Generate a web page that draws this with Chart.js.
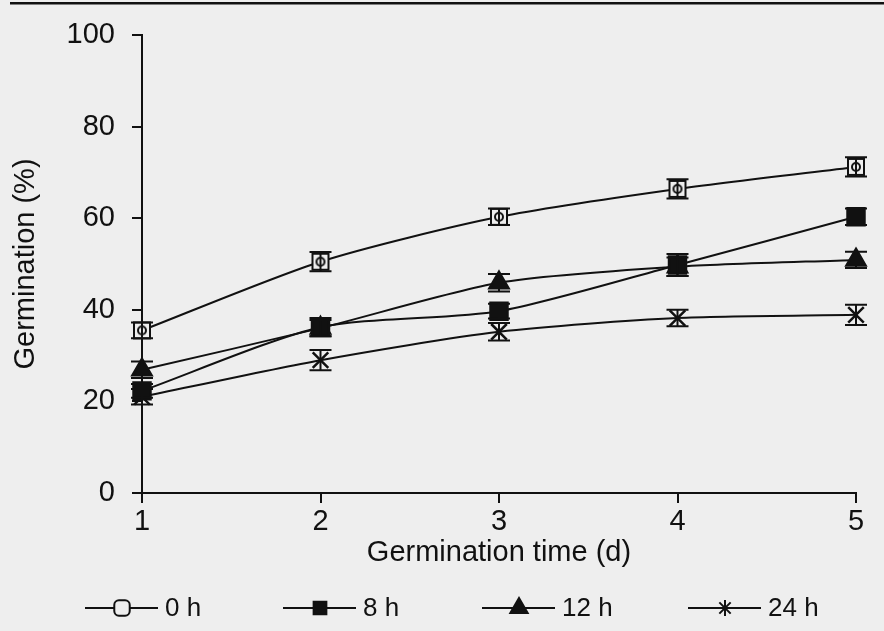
<!DOCTYPE html>
<html>
<head>
<meta charset="utf-8">
<script src="https://cdn.jsdelivr.net/npm/chart.js@4"></script>
<style>
  html, body { margin: 0; padding: 0; background: #eeeeee; }
  canvas { display: block; }
</style>
</head>
<body>
<canvas id="germChart" width="884" height="631"></canvas>
<script>
// data
const days = [1, 2, 3, 4, 5];
const seriesNames = ["0 h", "8 h", "12 h", "24 h"];
const germ0h = [35.5, 50.5, 60.3, 66.4, 71.2];
const germ8h = [22.3, 36.2, 39.7, 49.8, 60.3];
const germ12h = [26.9, 36.0, 45.9, 49.4, 50.9];
const germ24h = [21.0, 29.0, 35.2, 38.2, 38.9];
const err0h = [1.7, 2.1, 1.8, 2.1, 2.1];
const err8h = [1.5, 2.0, 1.6, 2.4, 1.8];
const err12h = [1.8, 1.8, 1.9, 2.0, 1.8];
const err24h = [1.7, 2.2, 1.9, 1.8, 2.2];
const yTicks = [0, 20, 40, 60, 80, 100];

const ink = "#111111";
const paper = "#eeeeee";
Chart.defaults.font.family = '"Liberation Sans", Arial, sans-serif';
Chart.defaults.color = ink;

// open square with a ring inside, like the 0 h marker
function openSquare(size) {
  const c = document.createElement("canvas");
  c.width = size; c.height = size;
  const g = c.getContext("2d");
  g.fillStyle = paper;
  g.strokeStyle = ink;
  g.lineWidth = 2;
  g.fillRect(2, 2, size - 4, size - 4);
  g.strokeRect(2, 2, size - 4, size - 4);
  g.beginPath();
  g.arc(size / 2, size / 2, size / 2 - 6, 0, Math.PI * 2);
  g.stroke();
  return c;
}

// the error bar stem supplies the vertical arm of the asterisk
const styles = [
  { pointStyle: openSquare(20), radius: 10 },
  { pointStyle: "rect", radius: 12 },
  { pointStyle: "triangle", radius: 11 },
  { pointStyle: "crossRot", radius: 11 }
];
const values = [germ0h, germ8h, germ12h, germ24h];
const errors = [err0h, err8h, err12h, err24h];

const datasets = values.map((vals, i) => ({
  label: seriesNames[i],
  data: vals.map((v, j) => ({ x: days[j], y: v })),
  errors: errors[i],
  clip: false,
  borderColor: ink,
  borderWidth: 2,
  backgroundColor: ink,
  tension: 0.25,
  pointStyle: styles[i].pointStyle,
  pointRadius: styles[i].radius,
  pointBorderWidth: 2.5,
  pointBorderColor: ink,
  pointBackgroundColor: ink
}));

// error bars with wide caps
const errorBars = {
  id: "errorBars",
  afterDatasetsDraw(chart) {
    const { ctx, scales: { x, y } } = chart;
    ctx.save();
    ctx.strokeStyle = ink;
    ctx.lineWidth = 2;
    chart.data.datasets.forEach(ds => {
      ds.data.forEach((p, j) => {
        const px = x.getPixelForValue(p.x);
        const top = y.getPixelForValue(p.y + ds.errors[j]);
        const bot = y.getPixelForValue(p.y - ds.errors[j]);
        ctx.beginPath();
        ctx.moveTo(px, top); ctx.lineTo(px, bot);
        ctx.moveTo(px - 11, top); ctx.lineTo(px + 11, top);
        ctx.moveTo(px - 11, bot); ctx.lineTo(px + 11, bot);
        ctx.stroke();
      });
    });
    ctx.restore();
  }
};

// line - marker - line legend under the axis title
const lineLegend = {
  id: "lineLegend",
  afterDraw(chart) {
    const ctx = chart.ctx;
    const slots = [85, 283, 482, 688];
    const legendY = 608;
    const marks = [
      { pointStyle: "rectRounded", radius: 9, fill: paper },
      { pointStyle: "rect", radius: 9, fill: ink },
      { pointStyle: "triangle", radius: 10, fill: ink },
      { pointStyle: "star", radius: 8, fill: ink }
    ];
    ctx.save();
    ctx.strokeStyle = ink;
    ctx.lineWidth = 2;
    slots.forEach((x0, i) => {
      ctx.beginPath();
      ctx.moveTo(x0, legendY); ctx.lineTo(x0 + 73, legendY);
      ctx.stroke();
      ctx.fillStyle = marks[i].fill;
      Chart.helpers.drawPoint(ctx, { pointStyle: marks[i].pointStyle, radius: marks[i].radius, rotation: 0, borderWidth: 2 }, x0 + 37, legendY);
      ctx.fillStyle = ink;
      ctx.font = '26px "Liberation Sans", Arial, sans-serif';
      ctx.textBaseline = "middle";
      ctx.textAlign = "left";
      ctx.fillText(seriesNames[i], x0 + 80, legendY + 1);
    });
    // dark rule left by the scan at the top
    ctx.fillStyle = ink;
    ctx.fillRect(10, 2, 874, 2.5);
    ctx.restore();
  }
};

new Chart(document.getElementById("germChart"), {
  type: "line",
  data: { datasets },
  plugins: [errorBars, lineLegend],
  options: {
    responsive: false,
    animation: false,
    layout: { padding: { top: 35, right: 28, left: 0, bottom: 0 } },
    plugins: { legend: { display: false }, tooltip: { enabled: false } },
    scales: {
      x: {
        type: "linear",
        min: days[0],
        max: days[days.length - 1],
        ticks: { stepSize: 1, font: { size: 29 }, padding: 2, color: ink },
        grid: { drawOnChartArea: false, drawTicks: true, tickLength: 10, color: ink, lineWidth: 2 },
        border: { color: ink, width: 2 },
        title: { display: true, text: "Germination time (d)", font: { size: 29 }, color: ink, padding: { top: 0, bottom: 61 } },
        afterFit: s => { s.height = 138; }
      },
      y: {
        min: yTicks[0],
        max: yTicks[yTicks.length - 1],
        afterBuildTicks: s => { s.ticks = yTicks.map(v => ({ value: v })); },
        ticks: { font: { size: 29 }, padding: 17, color: ink },
        grid: { drawOnChartArea: false, drawTicks: true, tickLength: 10, color: ink, lineWidth: 2 },
        border: { color: ink, width: 2 },
        title: { display: true, text: "Germination (%)", font: { size: 29 }, color: ink, padding: { top: 9, bottom: 0 } },
        afterFit: s => { s.width = 142; }
      }
    }
  }
});
</script>
</body>
</html>
